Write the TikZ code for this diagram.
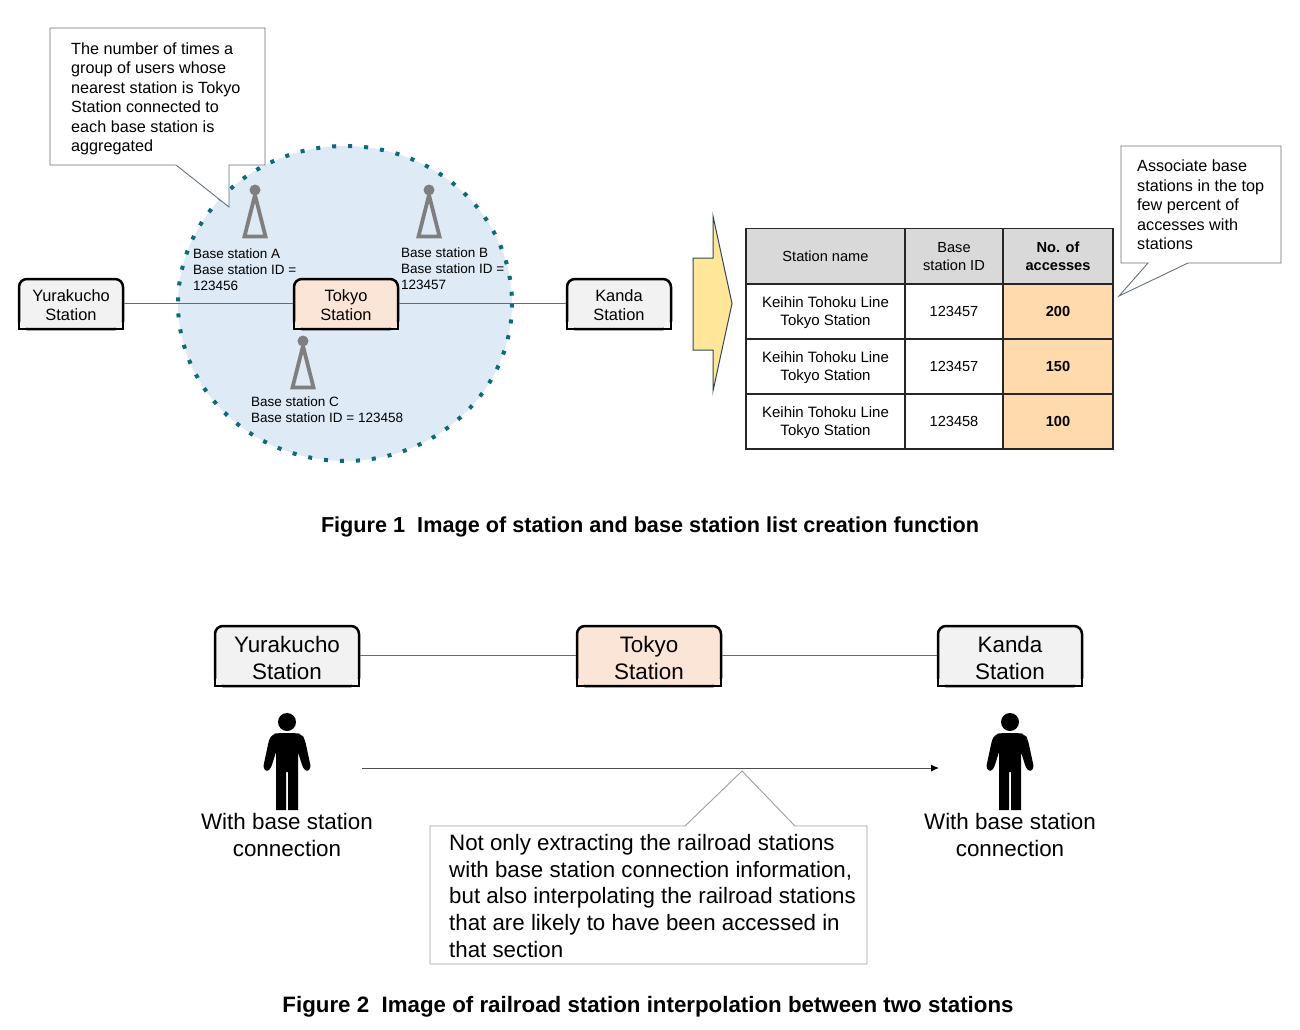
\documentclass[tikz,border=0pt]{standalone}
\usepackage{fontspec}
\setmainfont{Liberation Sans}
\usetikzlibrary{arrows.meta}
\definecolor{linegray}{HTML}{5F6B78}
\definecolor{notegray}{HTML}{66727F}
\definecolor{notelow}{HTML}{9A9FA3}
\definecolor{areablue}{HTML}{DEEAF6}
\definecolor{dotteal}{HTML}{0E6A78}
\definecolor{towergray}{HTML}{7F7F7F}
\definecolor{stationgray}{HTML}{F2F2F2}
\definecolor{stationpeach}{HTML}{FBE5D6}
\definecolor{headgray}{HTML}{D9D9D9}
\definecolor{accorange}{HTML}{FFDAAC}
\definecolor{arrowyellow}{HTML}{FFE699}
\definecolor{arrowline}{HTML}{2F4858}
\tikzset{
    stationbox/.style={draw=black, fill=#1, line width=2.5, rounded corners=8, align=center, inner sep=0},
    stationsmall/.style={stationbox=#1, minimum width=104, minimum height=50, font=\fontsize{16.4}{19.4}\selectfont, execute at begin node={\rule{0pt}{33.5pt}}},
    stationlarge/.style={stationbox=#1, minimum width=144, minimum height=60, font=\fontsize{22.4}{26.8}\selectfont, execute at begin node={\rule{0pt}{46.3pt}}},
    track/.style={draw=linegray, line width=0.9},
    notebox/.style={draw=notegray, fill=white, line width=0.9},
    notetext/.style={anchor=north west, align=left, inner sep=0, font=\fontsize{16.2}{19.5}\selectfont},
    towerlabel/.style={anchor=north west, align=left, inner sep=0, font=\fontsize{13.5}{16}\selectfont},
    cell/.style={draw=black!85, line width=1.3, align=center, inner sep=0, minimum height=55, font=\fontsize{14.6}{18}\selectfont},
    personlabel/.style={align=center, inner sep=0, font=\fontsize{22.4}{26.8}\selectfont},
    caption/.style={inner sep=0, font=\bfseries\fontsize{#1}{24}\selectfont},
    tower/.pic={
        \fill[towergray] (0,0) circle[radius=5.5];
        \draw[towergray, line width=3.8] (0,5) -- (-10.5,46.5) -- (10.5,46.5) -- cycle;
    },
    person/.pic={
        \fill (0,0) circle[radius=9];
        \fill (-1,88) -- (-11,88) -- (-11,30) [rounded corners=3] -- (-16,46) -- (-20,50) -- (-24,46)
            -- (-18,18) [rounded corners=5] -- (-15,12) -- (-8,11) -- (8,11) -- (15,12) -- (18,18) [rounded corners=3]
            -- (24,46) -- (20,50) -- (16,46) [sharp corners] -- (11,30) -- (11,88) -- (1,88) -- (1,50) -- (-1,50) -- cycle;
    }
}
% square off the two lower corners of a station
\newcommand{\squarefoot}[2]{
    \draw[line width=2.5, fill=#2, line join=miter] ([xshift=1.25,yshift=10]#1.south west) -- ([xshift=1.25,yshift=1.25]#1.south west) -- ([xshift=10,yshift=1.25]#1.south west);
    \draw[line width=2.5, fill=#2, line join=miter] ([xshift=-1.25,yshift=10]#1.south east) -- ([xshift=-1.25,yshift=1.25]#1.south east) -- ([xshift=-10,yshift=1.25]#1.south east);
}
\begin{document}
\begin{tikzpicture}[x=1pt, y=-1pt]
    \useasboundingbox (0,0) rectangle (1300,1029);
    % area round the station
    \draw[fill=areablue, draw=dotteal, line width=4, dash pattern=on 4 off 12] (345,303.5) ellipse [x radius=167, y radius=157.5];
    \pic at (255,190) {tower};
    \pic at (429,190) {tower};
    \pic at (303,341) {tower};
    \node[towerlabel] (labelA) at (193,249) {Base station A\\Base station ID =\\123456};
    \node[towerlabel] (labelB) at (401,248) {Base station B\\Base station ID =\\123457};
    \node[towerlabel] (labelC) at (251,397) {Base station C\\Base station ID = 123458};
    % top stations
    \node[stationsmall=stationgray] (yurakucho) at (71,304) {Yurakucho\\Station};
    \squarefoot{yurakucho}{stationgray}
    \node[stationsmall=stationpeach] (tokyo) at (346,304) {Tokyo\\Station};
    \squarefoot{tokyo}{stationpeach}
    \node[stationsmall=stationgray] (kanda) at (619,304) {Kanda\\Station};
    \squarefoot{kanda}{stationgray}
    \draw[track] ([yshift=.7]yurakucho.east) -- ([yshift=.7]tokyo.west);
    \draw[track] ([yshift=.7]tokyo.east) -- ([yshift=.7]kanda.west);
    % note on the area
    \draw[notebox] (50,28) -- (265,28) -- (265,165) -- (229,165) -- (229,207) -- (176,165) -- (50,165) -- cycle;
    \node[notetext] (noteArea) at (71,42.5) {The number of times a\\group of users whose\\nearest station is Tokyo\\Station connected to\\each base station is\\aggregated};
    % big arrow
    \draw[fill=arrowyellow, draw=arrowline, line width=1] (693,258) -- (713,258) -- (713,216) -- (732,303.5) -- (713,391) -- (713,350) -- (693,350) -- cycle;
    % table
    \fill[headgray] (746,228) rectangle (1113,284);
    \node[cell, minimum width=159, minimum height=56] (headName) at (825.5,256.5) {Station name};
    \node[cell, minimum width=98, minimum height=56] (headId) at (954,256.5) {Base\\station ID};
    \node[cell, minimum width=110, minimum height=56, font=\bfseries\fontsize{14.6}{18}\selectfont] (headAcc) at (1058,256.5) {No. of\\accesses};
    \foreach \rowname/\rowy/\rowid/\rowacc in {a/311.5/123457/200, b/366.5/123457/150, c/421.5/123458/100} {
        \node[cell, minimum width=159, font=\fontsize{15}{18}\selectfont, execute at begin node={\rule{0pt}{31pt}}] (name\rowname) at (825.5,\rowy) {Keihin Tohoku Line\\Tokyo Station};
        \node[cell, minimum width=98] (id\rowname) at (954,\rowy) {\rowid};
        \node[cell, minimum width=110, fill=accorange, font=\bfseries\fontsize{14.6}{18}\selectfont] (acc\rowname) at (1058,\rowy) {\rowacc};
    }
    % note on the table
    \draw[notebox] (1121,146) -- (1281,146) -- (1281,263) -- (1188,263) -- (1119,296) -- (1148,263) -- (1121,263) -- cycle;
    \node[notetext] (noteTable) at (1137,160) {Associate base\\stations in the top\\few percent of\\accesses with\\stations};
    \node[caption=21.65] (captionOne) at (650,527) {Figure 1\ \ Image of station and base station list creation function};
    % bottom stations
    \node[stationlarge=stationgray] (yurakuchoLow) at (287,656) {Yurakucho\\Station};
    \squarefoot{yurakuchoLow}{stationgray}
    \node[stationlarge=stationpeach] (tokyoLow) at (649,656) {Tokyo\\Station};
    \squarefoot{tokyoLow}{stationpeach}
    \node[stationlarge=stationgray] (kandaLow) at (1010,656) {Kanda\\Station};
    \squarefoot{kandaLow}{stationgray}
    \draw[track] ([yshift=.5]yurakuchoLow.east) -- ([yshift=.5]tokyoLow.west);
    \draw[track] ([yshift=.5]tokyoLow.east) -- ([yshift=.5]kandaLow.west);
    % people
    \pic at (287,722) {person};
    \pic at (1010,722) {person};
    \node[personlabel] (withLeft) at (287,835) {With base station\\connection};
    \node[personlabel] (withRight) at (1010,835) {With base station\\connection};
    \coordinate (moveStart) at (362,768);
    \coordinate (moveEnd) at (939,768);
    \draw[track, -{Latex[length=8,width=7,black]}, draw=black!70] (moveStart) -- (moveEnd);
    % note on the interpolation
    \draw[notebox, draw=notelow] (430,826) -- (685,826) -- (742,771) -- (795,826) -- (867,826) -- (867,964) -- (430,964) -- cycle;
    \node[notetext, font=\fontsize{22.3}{26.7}\selectfont] (noteLow) at (449,834) {Not only extracting the railroad stations\\with base station connection information,\\but also interpolating the railroad stations\\that are likely to have been accessed in\\that section};
    \node[caption=22.3] (captionTwo) at (648,1007) {Figure 2\ \ Image of railroad station interpolation between two stations};
\end{tikzpicture}
\end{document}
